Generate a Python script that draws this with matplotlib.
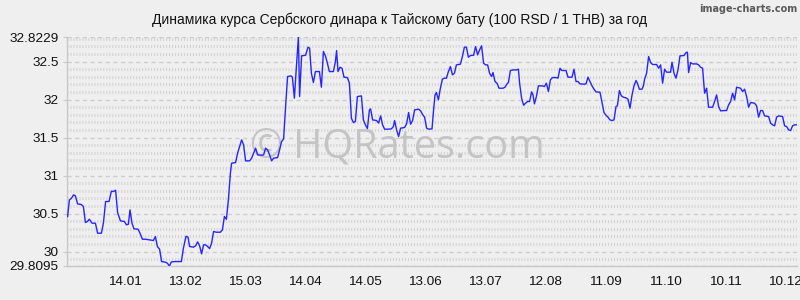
import matplotlib
matplotlib.use("Agg")
import matplotlib.pyplot as plt
from matplotlib.ticker import FixedLocator, MultipleLocator
import pandas as pd

# RSD/THB rate (100 RSD per 1 THB)
START = "2022-12-16"
END = "2023-12-16"

day_offsets = [
    0.3, 1.2, 2.2, 3.3, 4.2, 5.3, 7.2, 8.2, 9.2, 10.2, 11.2, 12.5, 14.2, 15.3, 17.2,
    18.2, 19.3, 21.0, 22.2, 23.3, 24.3, 25.3, 26.7, 28.7, 29.7, 30.7, 31.5, 32.5, 33.5,
    35.5, 36.5, 37.7, 39.2, 41.2, 43.2, 44.2, 45.2, 46.3, 47.3, 49.2, 50.2, 51.2, 52.2,
    54.2, 57.2, 58.2, 59.5, 60.5, 61.3, 63.2, 64.3, 65.3, 66.3, 67.3, 68.3, 69.3, 70.3,
    71.3, 72.3, 73.3, 74.7, 76.7, 77.7, 78.7, 79.7, 80.7, 81.7, 82.3, 84.3, 85.3, 86.3,
    87.3, 88.3, 89.3, 91.3, 92.3, 93.3, 94.3, 95.3, 97.3, 98.3, 99.3, 100.3, 101.3,
    102.3, 103.3, 105.3, 106.3, 107.3, 108.3, 109.3, 110.3, 112.0, 112.7, 113.7, 114.7,
    115.7, 116.3, 117.3, 119.3, 120.5, 121.3, 122.2, 123.2, 124.2, 126.2, 127.2, 128.2,
    129.2, 130.2, 131.2, 133.2, 134.2, 134.8, 135.5, 136.5, 137.5, 138.5, 140.2, 141.2,
    142.2, 143.2, 144.2, 145.2, 147.2, 148.2, 149.2, 150.2, 151.2, 151.8, 152.8, 154.8,
    155.8, 156.8, 157.8, 158.8, 160.8, 162.2, 163.2, 163.8, 164.8, 165.8, 166.8, 168.8,
    169.8, 170.8, 171.8, 172.8, 173.8, 175.8, 176.8, 177.8, 178.8, 179.8, 180.8, 182.5,
    183.3, 184.0, 184.7, 185.7, 186.7, 187.7, 188.7, 189.7, 190.7, 191.7, 192.7, 193.7,
    194.7, 196.7, 197.7, 198.7, 199.7, 200.7, 201.7, 203.3, 204.3, 205.3, 206.3, 207.3,
    208.3, 209.3, 210.3, 211.3, 212.3, 213.0, 214.0, 215.0, 216.0, 218.0, 219.0, 220.0,
    220.7, 221.7, 223.0, 224.7, 225.7, 226.3, 227.3, 228.3, 229.3, 230.3, 231.3, 232.3,
    233.0, 233.7, 234.7, 235.7, 237.7, 238.7, 239.7, 240.7, 241.7, 242.7, 244.7, 245.5,
    246.5, 247.5, 249.5, 250.5, 252.5, 253.5, 254.5, 255.5, 256.5, 258.5, 259.5, 260.5,
    261.5, 262.5, 263.5, 264.5, 266.5, 267.5, 268.5, 269.5, 270.5, 271.5, 272.5, 273.5,
    274.5, 275.2, 276.2, 277.2, 278.2, 279.5, 280.5, 281.5, 282.5, 283.5, 284.5, 285.2,
    286.2, 287.5, 288.2, 288.8, 289.8, 290.8, 291.8, 292.8, 294.8, 295.8, 296.8, 297.8,
    298.8, 299.8, 301.8, 302.5, 303.5, 304.5, 305.5, 306.5, 308.5, 309.5, 310.2, 310.8,
    311.8, 312.8, 314.8, 315.8, 316.8, 317.8, 318.8, 319.8, 320.8, 322.8, 323.8, 324.8,
    325.8, 326.8, 328.8, 329.8, 330.8, 331.8, 332.8, 333.8, 334.8, 336.8, 337.8, 338.8,
    339.8, 340.8, 341.8, 343.8, 344.8, 345.8, 346.8, 347.8, 348.8, 350.8, 351.8, 352.8,
    353.8, 354.8, 355.8, 357.8, 358.8, 359.8, 360.8, 361.8, 362.8, 363.8, 364.8,
]

rates = [
    30.461, 30.68, 30.70, 30.746, 30.732, 30.627, 30.618, 30.592, 30.382, 30.395, 30.425,
    30.373, 30.373, 30.241, 30.241, 30.373, 30.658, 30.658, 30.794, 30.79, 30.807, 30.513,
    30.404, 30.395, 30.351, 30.36, 30.548, 30.373, 30.298, 30.294, 30.241, 30.162, 30.162,
    30.153, 30.145, 30.197, 30.066, 30.031, 29.868, 29.86, 29.846, 29.8095, 29.864, 29.868,
    29.868, 30.044, 30.20, 30.19, 30.066, 30.057, 30.075, 30.127, 30.075, 29.969, 30.088,
    30.088, 30.066, 30.039, 30.110, 30.263, 30.254, 30.254, 30.285, 30.461, 30.425, 30.68,
    31.031, 31.162, 31.171, 31.294, 31.382, 31.469, 31.404, 31.193, 31.193, 31.228, 31.294,
    31.360, 31.272, 31.268, 31.272, 31.360, 31.338, 31.272, 31.193, 31.228, 31.237, 31.338,
    31.447, 31.482, 31.908, 32.303, 32.311, 32.294, 32.018, 32.434, 32.8229, 32.04, 32.575,
    32.583, 32.689, 32.675, 32.346, 32.224, 32.368, 32.368, 32.162, 32.632, 32.575, 32.478,
    32.368, 32.368, 32.5, 32.645, 32.368, 32.425, 32.412, 32.294, 32.289, 32.215, 31.754,
    31.697, 31.711, 32.039, 32.048, 31.732, 31.667, 31.618, 31.864, 31.877, 31.732, 31.724,
    31.689, 31.785, 31.667, 31.610, 31.610, 31.614, 31.645, 31.724, 31.601, 31.513, 31.623,
    31.632, 31.680, 31.829, 31.675, 31.724, 31.864, 31.873, 31.851, 31.803, 31.768, 31.623,
    31.610, 31.614, 31.864, 32.061, 32.092, 31.996, 32.149, 32.268, 32.281, 32.281, 32.368,
    32.434, 32.325, 32.346, 32.456, 32.465, 32.566, 32.689, 32.689, 32.557, 32.579, 32.583,
    32.697, 32.588, 32.654, 32.706, 32.478, 32.456, 32.456, 32.346, 32.303, 32.355, 32.237,
    32.215, 32.149, 32.149, 32.162, 32.206, 32.224, 32.382, 32.390, 32.390, 32.399, 32.215,
    32.018, 31.925, 31.952, 31.974, 31.974, 32.101, 32.061, 31.943, 32.039, 32.180, 32.180,
    32.171, 32.215, 32.105, 32.259, 32.289, 32.289, 32.281, 32.412, 32.382, 32.382, 32.294,
    32.294, 32.399, 32.237, 32.237, 32.206, 32.202, 32.206, 32.294, 32.237, 32.180, 32.136,
    32.101, 32.096, 31.961, 31.829, 31.794, 31.768, 31.732, 31.724, 31.732, 31.908, 31.917,
    32.118, 32.048, 32.031, 32.022, 32.004, 31.886, 32.057, 32.180, 32.250, 32.215, 32.136,
    32.136, 32.180, 32.268, 32.346, 32.566, 32.487, 32.461, 32.461, 32.412, 32.456, 32.215,
    32.399, 32.360, 32.360, 32.491, 32.346, 32.281, 32.390, 32.575, 32.579, 32.618, 32.623,
    32.355, 32.487, 32.469, 32.469, 32.456, 32.425, 32.412, 32.083, 32.149, 31.899, 31.899,
    31.974, 32.061, 31.908, 31.851, 31.855, 31.855, 31.930, 31.974, 32.083, 31.996, 32.162,
    32.149, 32.105, 32.136, 32.039, 31.899, 31.961, 31.952, 31.917, 31.768, 31.855, 31.855,
    31.785, 31.776, 31.689, 31.667, 31.654, 31.768, 31.785, 31.776, 31.654, 31.645, 31.601,
    31.592, 31.654, 31.667, 31.667,
]

tick_dates = [
    "2023-01-14", "2023-02-13", "2023-03-15", "2023-04-14", "2023-05-14", "2023-06-13",
    "2023-07-13", "2023-08-12", "2023-09-11", "2023-10-11", "2023-11-10", "2023-12-10",
]
tick_labels = ["14.01", "13.02", "15.03", "14.04", "14.05", "13.06",
               "13.07", "12.08", "11.09", "11.10", "10.11", "10.12"]

y_ticks = [29.8095, 30, 30.5, 31, 31.5, 32, 32.5, 32.8229]
y_tick_labels = ["29.8095", "30", "30.5", "31", "31.5", "32", "32.5", "32.8229"]

TITLE = "Динамика курса Сербского динара к Тайскому бату (100 RSD / 1 THB) за год"

BG = "#efefef"
GRID = "#cdcdcd"

plt.rcParams["font.family"] = ["Liberation Sans", "DejaVu Sans"]
plt.rcParams["lines.scale_dashes"] = False

dates = pd.Timestamp(START) + pd.to_timedelta(day_offsets, unit="D")

fig = plt.figure(figsize=(8, 3), dpi=100, facecolor=BG)
ax = fig.add_axes([67 / 800, 1 - 266 / 300, 730 / 800, 229 / 300], facecolor=BG)

# watermarks
ax.text(0.452, 0.52, "© HQRates.com", transform=ax.transAxes, ha="center", va="center",
        fontsize=28.5, color="#c4c4c4", family="Open Sans", zorder=1)
fig.text(0.997, 0.985, "image-charts.com", ha="right", va="top", fontsize=7,
         fontweight="bold", color="#5a5a5a", family="DejaVu Sans Condensed")

ax.plot(dates, rates, color="#2525ff", lw=1.0, zorder=3)

ax.set_xlim(pd.Timestamp(START), pd.Timestamp(END))
ax.set_ylim(y_ticks[0], y_ticks[-1])

ax.xaxis.set_major_locator(FixedLocator(matplotlib.dates.date2num(pd.to_datetime(tick_dates))))
ax.set_xticklabels(tick_labels)
ax.set_yticks(y_ticks)
ax.set_yticklabels(y_tick_labels)
ax.yaxis.set_minor_locator(MultipleLocator(0.1))

ax.grid(axis="y", which="major", color=GRID, lw=1.0, linestyle=(0, (3, 2.5)), zorder=0)
ax.grid(axis="y", which="minor", color="#d2d2d2", lw=2.2, linestyle=(0, (0.75, 1.4)), zorder=0)
ax.set_axisbelow(True)

for side in ("top", "right"):
    ax.spines[side].set_visible(False)
for side in ("left", "bottom"):
    ax.spines[side].set_color("#c8c8c8")
    ax.spines[side].set_linewidth(1.0)

ax.tick_params(axis="y", which="major", length=3, color="#c8c8c8", labelsize=9.7,
               labelcolor="#111111", pad=3)
ax.tick_params(axis="y", which="minor", length=0)
ax.tick_params(axis="x", length=0, labelsize=9.7, labelcolor="#111111", pad=7)

fig.text(0.5, 0.935, TITLE, ha="center", va="center", fontsize=10, color="#111111")

fig.savefig("out.png", dpi=100, facecolor=BG)
